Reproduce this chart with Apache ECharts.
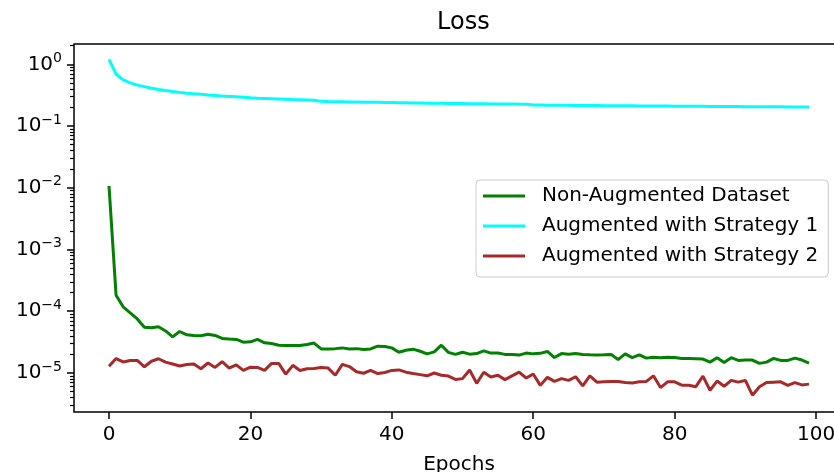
<!DOCTYPE html>
<html>
<head>
<meta charset="utf-8">
<script src="https://cdn.jsdelivr.net/npm/echarts@6/dist/echarts.min.js"></script>
<style>
  html, body { margin: 0; padding: 0; background: #fff; overflow: hidden; }
  /* 原图右边框被裁掉了, 所以画布比窗口宽一点 */
  #main { width: 860px; height: 472px; }
</style>
</head>
<body>
<div id="main"></div>
<script>
// 横轴: epoch 0..99
const epochs = Array.from({ length: 100 }, (_, i) => i);
const xTicks = [0, 20, 40, 60, 80, 100];
const yTicks = [1e-5, 1e-4, 1e-3, 1e-2, 1e-1, 1];

// 三条 loss 曲线 (从图上读出来的近似值)
const nonAugmented = [
  1.07e-2, 1.82e-4, 1.18e-4, 9.4e-5, 7.5e-5, 5.5e-5, 5.4e-5, 5.6e-5, 4.8e-5, 3.85e-5,
  4.7e-5, 4.15e-5, 4.05e-5, 4.0e-5, 4.25e-5, 4.05e-5, 3.63e-5, 3.55e-5, 3.5e-5, 3.16e-5,
  3.2e-5, 3.5e-5, 3.08e-5, 3.0e-5, 2.82e-5, 2.78e-5, 2.78e-5, 2.78e-5, 2.9e-5, 3.05e-5,
  2.45e-5, 2.45e-5, 2.48e-5, 2.55e-5, 2.45e-5, 2.48e-5, 2.4e-5, 2.45e-5, 2.72e-5, 2.68e-5,
  2.55e-5, 2.17e-5, 2.34e-5, 2.43e-5, 2.25e-5, 2.04e-5, 2.2e-5, 2.82e-5, 2.16e-5, 2.0e-5,
  2.17e-5, 2.02e-5, 2.06e-5, 2.28e-5, 2.1e-5, 2.1e-5, 2.0e-5, 2.0e-5, 1.95e-5, 2.1e-5,
  2.04e-5, 2.08e-5, 2.23e-5, 1.78e-5, 2.06e-5, 2.02e-5, 2.06e-5, 2.0e-5, 1.97e-5, 1.95e-5,
  1.97e-5, 2.0e-5, 1.65e-5, 2.04e-5, 1.77e-5, 1.97e-5, 1.74e-5, 1.8e-5, 1.77e-5, 1.8e-5,
  1.78e-5, 1.72e-5, 1.72e-5, 1.7e-5, 1.68e-5, 1.5e-5, 1.77e-5, 1.48e-5, 1.77e-5, 1.6e-5,
  1.63e-5, 1.62e-5, 1.43e-5, 1.5e-5, 1.72e-5, 1.6e-5, 1.6e-5, 1.74e-5, 1.62e-5, 1.45e-5
];
const strategy1 = [
  1.2, 0.69, 0.56, 0.50, 0.46, 0.435, 0.41, 0.392, 0.377, 0.363,
  0.351, 0.341, 0.333, 0.326, 0.319, 0.313, 0.307, 0.302, 0.297, 0.292,
  0.287, 0.283, 0.280, 0.277, 0.274, 0.271, 0.268, 0.266, 0.264, 0.262,
  0.251, 0.249, 0.248, 0.247, 0.246, 0.245, 0.244, 0.243, 0.242, 0.241,
  0.240, 0.239, 0.238, 0.237, 0.236, 0.235, 0.234, 0.233, 0.232, 0.231,
  0.231, 0.230, 0.229, 0.229, 0.228, 0.228, 0.227, 0.227, 0.226, 0.226,
  0.219, 0.219, 0.218, 0.218, 0.217, 0.217, 0.216, 0.216, 0.215, 0.215,
  0.214, 0.214, 0.214, 0.213, 0.213, 0.212, 0.212, 0.212, 0.211, 0.211,
  0.210, 0.210, 0.210, 0.209, 0.209, 0.208, 0.208, 0.208, 0.207, 0.207,
  0.206, 0.206, 0.206, 0.205, 0.205, 0.205, 0.204, 0.204, 0.203, 0.203
];
const strategy2 = [
  1.29e-5, 1.71e-5, 1.51e-5, 1.59e-5, 1.6e-5, 1.26e-5, 1.55e-5, 1.7e-5, 1.5e-5, 1.4e-5,
  1.3e-5, 1.37e-5, 1.4e-5, 1.17e-5, 1.45e-5, 1.23e-5, 1.53e-5, 1.2e-5, 1.35e-5, 1.1e-5,
  1.24e-5, 1.23e-5, 1.1e-5, 1.43e-5, 1.43e-5, 9.6e-6, 1.33e-5, 1.1e-5, 1.17e-5, 1.18e-5,
  1.23e-5, 1.2e-5, 9.2e-6, 1.38e-5, 1.27e-5, 1.05e-5, 9.9e-6, 1.1e-5, 9.8e-6, 1.02e-5,
  1.1e-5, 1.12e-5, 1.03e-5, 9.8e-6, 9.4e-6, 9.0e-6, 1.0e-5, 9.2e-6, 8.9e-6, 7.85e-6,
  8.1e-6, 1.12e-5, 6.8e-6, 1.03e-5, 8.6e-6, 9.2e-6, 7.8e-6, 9.0e-6, 1.03e-5, 8.3e-6,
  9.6e-6, 6.3e-6, 8.5e-6, 7.3e-6, 8.1e-6, 7.6e-6, 8.7e-6, 6.2e-6, 9.0e-6, 7.1e-6,
  7.2e-6, 7.3e-6, 7.3e-6, 7.0e-6, 6.9e-6, 7.2e-6, 7.3e-6, 9.0e-6, 5.8e-6, 7.2e-6,
  7.2e-6, 6.35e-6, 6.35e-6, 6.0e-6, 8.9e-6, 5.25e-6, 7.4e-6, 6.1e-6, 7.6e-6, 7.1e-6,
  7.6e-6, 4.37e-6, 6.0e-6, 7.0e-6, 7.1e-6, 7.2e-6, 6.3e-6, 7.0e-6, 6.4e-6, 6.6e-6
];

const FONT = 'DejaVu Sans';

// 对数轴的次刻度 2..9 × 10^n
const minorTicks = [];
for (let n = -6; n <= 0; n++) {
  for (let k = 2; k <= 9; k++) minorTicks.push(k * Math.pow(10, n));
}

const yMin = Math.pow(10, -5.632);
const yMax = Math.pow(10, 0.329);

function pair(arr) {
  return arr.map((v, i) => [epochs[i], v]);
}

const dom = document.querySelector('#main');
const myChart = echarts.init(dom);

const option = {
  animation: false,
  backgroundColor: '#fff',
  title: {
    text: 'Loss',
    left: 432,
    top: 6,
    textStyle: { fontFamily: FONT, fontSize: 24, fontWeight: 'normal', color: '#000' }
  },
  grid: {
    left: 74,
    top: 44,
    width: 770,
    height: 368,
    show: true,
    borderColor: '#000',
    borderWidth: 1.5,
    containLabel: false,
    // 不要自动缩小网格 (Epochs 本来就被裁掉一点)
    outerBoundsMode: 'none'
  },
  legend: {
    orient: 'vertical',
    left: 476,
    top: 180,
    icon: 'rect',
    itemWidth: 42,
    itemHeight: 3,
    itemGap: 8,
    padding: [5, 10, 10, 7],
    backgroundColor: '#fff',
    borderColor: '#cccccc',
    borderWidth: 1,
    borderRadius: 4,
    textStyle: {
      fontFamily: FONT,
      fontSize: 20,
      lineHeight: 22,
      color: '#000',
      padding: [0, 0, 0, 12]
    },
    data: ['Non-Augmented Dataset', 'Augmented with Strategy 1', 'Augmented with Strategy 2']
  },
  xAxis: {
    type: 'value',
    min: -4.95,
    max: 103.95,
    name: 'Epochs',
    nameLocation: 'middle',
    nameGap: 43,
    nameTextStyle: { fontFamily: FONT, fontSize: 20, color: '#000' },
    axisLine: { show: false },
    splitLine: { show: false },
    axisTick: {
      show: true,
      length: 7,
      customValues: xTicks,
      lineStyle: { color: '#000', width: 1.5 }
    },
    axisLabel: {
      customValues: xTicks,
      margin: 13,
      fontFamily: FONT,
      fontSize: 20,
      color: '#000'
    }
  },
  yAxis: [
    {
      type: 'log',
      logBase: 10,
      position: 'left',
      min: yMin,
      max: yMax,
      axisLine: { show: false, onZero: false },
      splitLine: { show: false },
      axisTick: {
        show: true,
        length: 7,
        customValues: yTicks,
        lineStyle: { color: '#000', width: 1.5 }
      },
      axisLabel: {
        customValues: yTicks,
        margin: 12,
        formatter: function (v) {
          const e = Math.round(Math.log10(v));
          return '{b|10}{s|' + (e < 0 ? '\u2212' + (-e) : e) + '}';
        },
        rich: {
          b: { fontFamily: FONT, fontSize: 20, lineHeight: 26, color: '#000' },
          s: { fontFamily: FONT, fontSize: 14, lineHeight: 16, verticalAlign: 'top', color: '#000' }
        }
      }
    },
    {
      type: 'log',
      logBase: 10,
      position: 'left',
      min: yMin,
      max: yMax,
      axisLine: { show: false, onZero: false },
      splitLine: { show: false },
      axisTick: {
        show: true,
        length: 4,
        customValues: minorTicks,
        lineStyle: { color: '#000', width: 1.2 }
      },
      axisLabel: { show: false }
    }
  ],
  series: [
    {
      name: 'Non-Augmented Dataset',
      type: 'line',
      data: pair(nonAugmented),
      symbol: 'none',
      lineStyle: { width: 3, color: '#008000' },
      itemStyle: { color: '#008000' }
    },
    {
      name: 'Augmented with Strategy 1',
      type: 'line',
      data: pair(strategy1),
      symbol: 'none',
      lineStyle: { width: 3, color: '#00ffff' },
      itemStyle: { color: '#00ffff' }
    },
    {
      name: 'Augmented with Strategy 2',
      type: 'line',
      data: pair(strategy2),
      symbol: 'none',
      lineStyle: { width: 3, color: '#a52a2a' },
      itemStyle: { color: '#a52a2a' }
    }
  ]
};

myChart.setOption(option);
</script>
</body>
</html>
